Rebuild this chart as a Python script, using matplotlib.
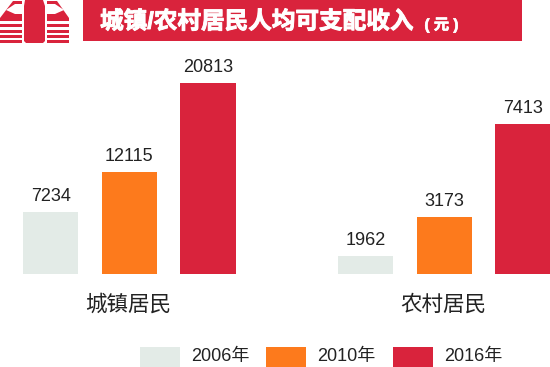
import numpy as np
import matplotlib
matplotlib.use('Agg')
import matplotlib.pyplot as plt
import matplotlib.patheffects as pe
from matplotlib.patches import Rectangle, Polygon

plt.rcParams['font.family'] = ['Liberation Sans', 'Noto Sans CJK SC', 'DejaVu Sans']

years = ['2006年', '2010年', '2016年']
groups = ['城镇居民', '农村居民']
urban = [7234, 12115, 20813]
rural = [1962, 3173, 7413]

title = '城镇/农村居民人均可支配收入'
unit = '( 元 )'

colors = ['#e3ebe7', '#fd7a1c', '#d9233c']
RED = '#d9233c'
W, H = 550, 367
BASE = 274  # pixel row of the bar baseline

fig = plt.figure(figsize=(5.5, 3.67), dpi=100)

# the bars in the picture are not drawn to a linear scale,
# so each group gets a scale following the heights seen in the picture
def draw_group(values, drawn, left, label):
    top = drawn[-1]
    width = 212.5
    ax = fig.add_axes([left / W, (H - BASE) / H, width / W, top / H])
    knots = [0] + list(values)
    px = [0] + list(drawn)
    ax.set_yscale('function', functions=(lambda v: np.interp(v, knots, px),
                                         lambda p: np.interp(p, px, knots)))
    x = np.arange(len(values))
    ax.bar(x, values, width=0.707, color=colors)
    ax.set_xlim(-0.3535, 2.3535)
    ax.set_ylim(0, values[-1])
    ax.axis('off')
    for xi, v in zip(x, values):
        ax.annotate(str(v), (xi, v), xytext=(0, 5), textcoords='offset points',
                    ha='center', va='bottom', fontsize=13, color='#222222',
                    annotation_clip=False)
    ax.annotate(label, (1, 0), xytext=(-0.5, -22.5), textcoords='offset points',
                ha='center', va='center', fontsize=15.5, color='#222222',
                annotation_clip=False)

draw_group(urban, [62, 102, 191], 23, groups[0])
draw_group(rural, [18, 57, 150], 338, groups[1])

# overlay in pixel coordinates for banner, icon and legend
bg = fig.add_axes([0, 0, 1, 1])
bg.set_xlim(0, W)
bg.set_ylim(H, 0)
bg.axis('off')
bg.patch.set_alpha(0)

bg.add_patch(Rectangle((83, 0), 439, 41, color=RED, lw=0))
t = bg.text(100, 22, title, color='white', fontsize=17, fontweight='bold', va='center', ha='left')
t.set_path_effects([pe.withStroke(linewidth=0.7, foreground='white')])
u = bg.text(441.5, 25, unit, color='white', fontsize=11, fontweight='bold', va='center', ha='center')
u.set_path_effects([pe.withStroke(linewidth=0.5, foreground='white')])

# money stack icon
bg.add_patch(Polygon([(0, 18), (13, 1), (57, 1), (69, 18)], color=RED, lw=0))
bg.add_patch(Polygon([(6, 10), (15, 4), (55, 4), (64, 10), (55, 14), (15, 14)], color='white', lw=0))
for y in [18, 24, 29.5, 35, 40]:
    bg.add_patch(Rectangle((0, y), 69, 3.2, color=RED, lw=0))
bg.add_patch(Rectangle((22, 0), 25, 44, color='white', lw=0))
bg.add_patch(Polygon([(25, 0), (43, 0), (45, 6), (45, 41), (43, 43), (26, 43), (24, 41), (24, 6)], color=RED, lw=0))

# legend
for x0, c, yr in zip([140, 266, 393], colors, years):
    bg.add_patch(Rectangle((x0, 347), 40, 20, color=c, lw=0))
    bg.text(x0 + 51, 356, yr, fontsize=13, color='#222222', va='center', ha='left')

fig.savefig('out.png', dpi=100)
